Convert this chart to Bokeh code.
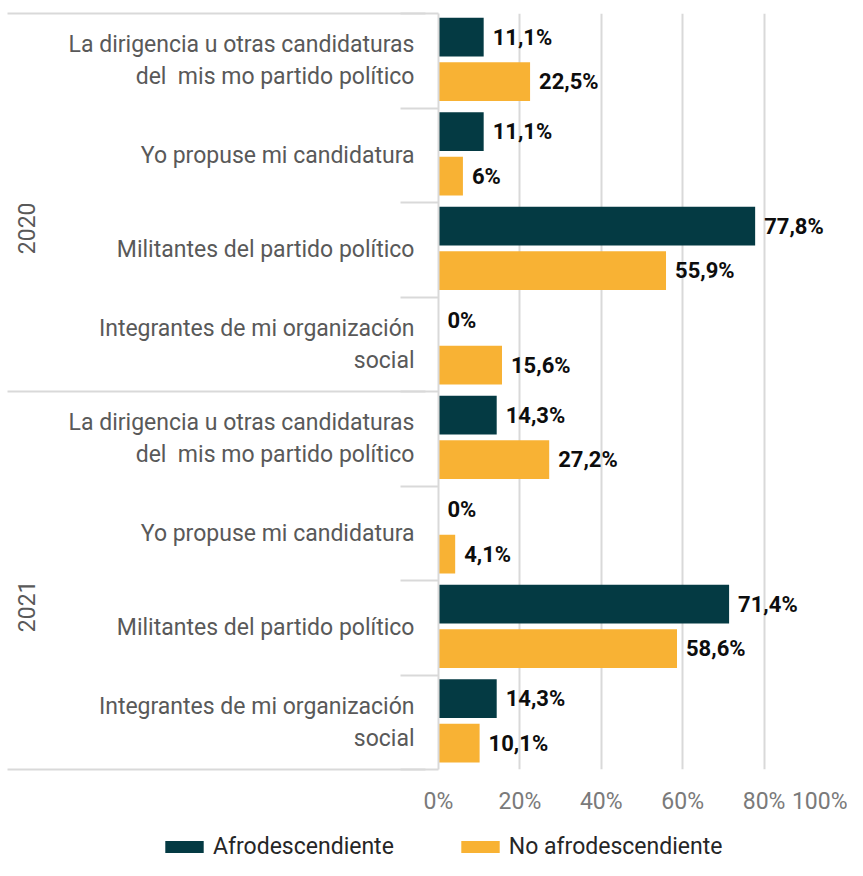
from math import pi
from bokeh.plotting import figure
from bokeh.layouts import column
from bokeh.models import ColumnDataSource, FixedTicker, LinearAxis, Range1d, Legend, LegendItem
from bokeh.core.properties import value
from bokeh.embed import file_html
from bokeh.resources import INLINE

# ---------------- data ----------------
years = ["2020", "2021"]
categories = [
    "La dirigencia u otras candidaturas\ndel\u00a0 mis mo partido político",
    "Yo propuse mi candidatura",
    "Militantes del partido político",
    "Integrantes de mi organización\nsocial",
]
afro_2020 = [11.1, 11.1, 77.8, 0]
no_afro_2020 = [22.5, 6, 55.9, 15.6]
afro_2021 = [14.3, 0, 71.4, 14.3]
no_afro_2021 = [27.2, 4.1, 58.6, 10.1]
series_names = ["Afrodescendiente", "No afrodescendiente"]
x_ticks = [0, 20, 40, 60, 80, 100]
x_tick_labels = ["0%", "20%", "40%", "60%", "80%", "100%"]

# ---------------- styling ----------------
DARK = "#043a43"
ORANGE = "#f8b234"
GRID = "#d9d9d9"
FONT = "Roboto"

def fmt(v):
    return f"{v:g}".replace(".", ",") + "%"

rows = categories * len(years)
afro = afro_2020 + afro_2021
no_afro = no_afro_2020 + no_afro_2021
n = len(rows)
idx = list(range(n))

src_a = ColumnDataSource(dict(y=[i + 0.25 for i in idx], v=afro, lab=[fmt(v) for v in afro]))
src_b = ColumnDataSource(dict(y=[i + 0.72 for i in idx], v=no_afro, lab=[fmt(v) for v in no_afro]))

p = figure(width=847, height=817, x_range=Range1d(0, 100), y_range=Range1d(n, 0),
           output_backend="svg", toolbar_location=None, y_axis_location=None,
           min_border_left=438, min_border_right=2, min_border_top=13, min_border_bottom=47)
p.outline_line_color = None
p.background_fill_color = "white"
p.frame_align = False

p.hbar(y="y", right="v", left=0, height=0.41, source=src_a, color=DARK, line_color=None)
p.hbar(y="y", right="v", left=0, height=0.41, source=src_b, color=ORANGE, line_color=None)

for s in (src_a, src_b):
    p.text(x="v", y="y", text="lab", source=s, x_offset=9, text_baseline="middle",
           text_align="left", text_font=value(FONT), text_font_style="bold",
           text_font_size="22px", text_color="#0d0d0d")

# x axis
xa = p.xaxis[0]
xa.ticker = FixedTicker(ticks=x_ticks)
xa.major_label_overrides = {t: l for t, l in zip(x_ticks, x_tick_labels)}
xa.axis_line_color = None
xa.major_tick_line_color = None
xa.minor_tick_line_color = None
xa.major_tick_out = 0
xa.minor_tick_out = 0
xa.major_label_text_font = FONT
xa.major_label_text_font_size = "23px"
xa.major_label_text_color = "#7a7a7a"
xa.major_label_standoff = 18

p.xgrid.ticker = FixedTicker(ticks=x_ticks)
p.xgrid.grid_line_color = GRID
p.xgrid.grid_line_width = 2
p.ygrid.grid_line_color = None

# inner category axis
inner = LinearAxis(ticker=FixedTicker(ticks=[i + 0.5 for i in idx],
                                      minor_ticks=list(range(0, n + 1))))
inner.major_label_overrides = {i + 0.5: rows[i] for i in idx}
inner.axis_line_color = GRID
inner.axis_line_width = 2
inner.major_tick_line_color = None
inner.major_tick_out = 0
inner.minor_tick_line_color = GRID
inner.minor_tick_line_width = 2
inner.minor_tick_out = 38
inner.minor_tick_in = 0
inner.major_label_standoff = -14
inner.major_label_text_font = FONT
inner.major_label_text_font_size = "23px"
inner.major_label_text_color = "#595959"
inner.major_label_text_line_height = 1.17
p.add_layout(inner, "left")

# outer year axis
g = len(categories)
outer = LinearAxis(ticker=FixedTicker(ticks=[k * g + g / 2 for k in range(len(years))],
                                      minor_ticks=[k * g for k in range(len(years) + 1)]))
outer.major_label_overrides = {k * g + g / 2: years[k] for k in range(len(years))}
outer.major_label_orientation = pi / 2
outer.axis_line_color = None
outer.major_tick_line_color = None
outer.major_tick_out = 0
outer.minor_tick_line_color = GRID
outer.minor_tick_line_width = 2
outer.minor_tick_in = 360
outer.minor_tick_out = 58
outer.major_label_standoff = -19
outer.major_label_text_font = FONT
outer.major_label_text_font_size = "23px"
outer.major_label_text_color = "#595959"
p.add_layout(outer, "left")

# legend strip
leg = figure(width=847, height=43, x_range=Range1d(0, 1), y_range=Range1d(0, 1),
             output_backend="svg", toolbar_location=None, title=None,
             min_border_left=0, min_border_right=0, min_border_top=0, min_border_bottom=0)
leg.frame_align = False
leg.axis.visible = False
leg.grid.visible = False
leg.outline_line_color = None
la = leg.hbar(y=[-5], right=[-4], left=[-5], height=0.5, color=DARK, line_color=None)
lb = leg.hbar(y=[-5], right=[-4], left=[-5], height=0.5, color=ORANGE, line_color=None)
lg = Legend(items=[LegendItem(label=series_names[0], renderers=[la]),
                   LegendItem(label=series_names[1], renderers=[lb])],
            orientation="horizontal", location=(160, 0))
lg.glyph_width = 48
lg.glyph_height = 15
lg.label_standoff = 5
lg.spacing = 62
lg.padding = 2
lg.margin = 0
lg.border_line_color = None
lg.background_fill_alpha = 0
lg.label_text_font = FONT
lg.label_text_font_size = "23px"
lg.label_text_color = "#262626"
leg.add_layout(lg, "center")

layout = column(p, leg, spacing=0)
open("out.html", "w").write(file_html(layout, INLINE))
